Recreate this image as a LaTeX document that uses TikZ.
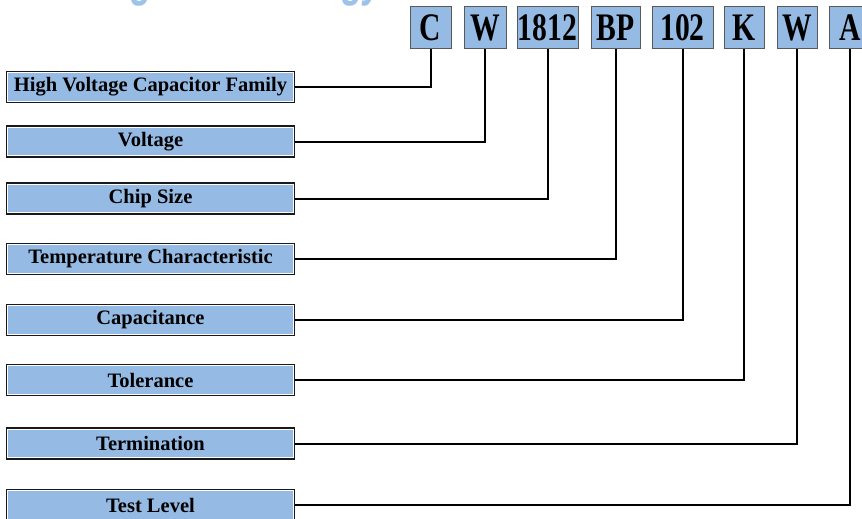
\documentclass[tikz,border=0pt]{standalone}
\usepackage{fontspec}
\setmainfont{Liberation Serif}
\newfontfamily\codefont[FakeStretch=0.76]{Liberation Serif}
\newfontfamily\headfont[FakeStretch=0.68]{Liberation Sans}
\definecolor{capblue}{HTML}{95BBE4}
\definecolor{headblue}{HTML}{9EC3EA}
\begin{document}
\begin{tikzpicture}[x=1pt, y=-1pt,
	lbl/.style = {fill=white, draw=black!90, line width=1.2pt, minimum width=288, minimum height=31, inner sep=0pt,
		font=\fontsize{20.5}{22}\selectfont\bfseries,
		path picture={\fill[capblue] ([shift={(1.6pt,-1.6pt)}]path picture bounding box.north west) rectangle ([shift={(-1.6pt,1.6pt)}]path picture bounding box.south east);}},
	code/.style = {fill=capblue, draw=black!65, line width=1pt, minimum height=42, inner sep=0pt,
		font=\codefont\fontsize{39}{41}\selectfont\bfseries},
	wire/.style = {line width=2pt}]
	\useasboundingbox (0,0) rectangle (862,519);
	% cut-off heading
	\node[anchor=base west, inner sep=0pt, text=headblue, font=\headfont\fontsize{52}{54}\selectfont\bfseries\itshape] (heading) at (4,-4) {Ordering Methodology};
	% part number
	\node[code, minimum width=41] (c1) at (430.5,28) {C};
	\node[code, minimum width=42] (c2) at (485,28) {W};
	\node[code, minimum width=61] (c3) at (547.5,28) {1812};
	\node[code, minimum width=49] (c4) at (615.5,28) {BP};
	\node[code, minimum width=61] (c5) at (682.5,28) {102};
	\node[code, minimum width=40] (c6) at (744,28) {K};
	\node[code, minimum width=40] (c7) at (797,28) {W};
	\node[code, minimum width=42] (c8) at (850,28) {A};
	% descriptions
	\node[lbl] (family) at (150.5,87) {High Voltage Capacitor Family};
	\node[lbl] (voltage) at (150.5,141.5) {Voltage};
	\node[lbl] (size) at (150.5,198.5) {Chip Size};
	\node[lbl] (temp) at (150.5,259) {Temperature Characteristic};
	\node[lbl] (cap) at (150.5,320) {Capacitance};
	\node[lbl] (tol) at (150.5,380) {Tolerance};
	\node[lbl] (term) at (150.5,443.5) {Termination};
	\node[lbl] (test) at (150.5,505) {Test Level};
	\draw[wire] (family.east) -| (c1.south);
	\draw[wire] (voltage.east) -| (c2.south);
	\draw[wire] (size.east) -| (c3.south);
	\draw[wire] (temp.east) -| (c4.south);
	\draw[wire] (cap.east) -| (c5.south);
	\draw[wire] (tol.east) -| (c6.south);
	\draw[wire] (term.east) -| (c7.south);
	\draw[wire] (test.east) -| (c8.south);
\end{tikzpicture}
\end{document}
